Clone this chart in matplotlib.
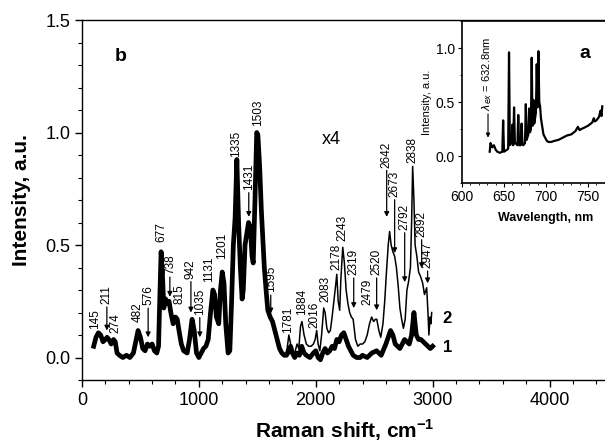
# Raman spectrum (b) with PL spectrum inset (a)

import numpy as np
import matplotlib.pyplot as plt
from matplotlib.ticker import MultipleLocator, FixedLocator

# curve 1: Raman spectrum, thick line
shift1 = [100, 120, 140, 160, 180, 200, 215, 230, 250, 270, 285, 300, 320, 350, 380, 410,
          440, 460, 480, 500, 520, 540, 560, 580, 600, 620, 640, 655, 665, 677, 690, 700,
          715, 730, 745, 760, 780, 800, 815, 830, 850, 870, 900, 920, 942, 960, 980, 1000,
          1020, 1040, 1060, 1080, 1100, 1120, 1135, 1150, 1170, 1185, 1200, 1215, 1230, 1250,
          1265, 1280, 1295, 1310, 1325, 1340, 1355, 1370, 1380, 1395, 1410, 1425, 1440, 1455,
          1465, 1480, 1495, 1505, 1520, 1535, 1545, 1560, 1575, 1590, 1610, 1630, 1650, 1670,
          1690, 1710, 1730, 1750, 1770, 1785, 1800, 1820, 1840, 1860, 1880, 1900, 1920, 1950,
          1980, 2000, 2020, 2040, 2060, 2080, 2100, 2120, 2140, 2160, 2180, 2200, 2220, 2240,
          2260, 2280, 2300, 2320, 2350, 2380, 2400, 2440, 2480, 2520, 2560, 2600, 2640, 2660,
          2680, 2700, 2720, 2740, 2760, 2780, 2800, 2820, 2840, 2860, 2880, 2900, 2920, 2940,
          2960, 2980, 3000]
int1 = [0.05, 0.09, 0.11, 0.10, 0.07, 0.08, 0.09, 0.08, 0.06, 0.08, 0.07, 0.02, 0.01, 0.0, 0.01, 0.0,
        0.02, 0.07, 0.12, 0.09, 0.04, 0.03, 0.06, 0.05, 0.06, 0.03, 0.02, 0.05, 0.25, 0.47, 0.35, 0.22,
        0.26, 0.24, 0.25, 0.20, 0.15, 0.18, 0.17, 0.12, 0.06, 0.03, 0.02, 0.08, 0.17, 0.12, 0.02, 0.0,
        0.02, 0.04, 0.05, 0.08, 0.20, 0.30, 0.28, 0.18, 0.15, 0.30, 0.38, 0.33, 0.15, 0.02,
        0.03, 0.25, 0.50, 0.62, 0.88, 0.60, 0.40, 0.26, 0.30, 0.50, 0.55, 0.60, 0.58, 0.45,
        0.42, 0.70, 1.0, 0.99, 0.85, 0.65, 0.55, 0.40, 0.30, 0.21, 0.18, 0.16, 0.12, 0.08,
        0.04, 0.02, 0.01, 0.01, 0.03, 0.05, 0.02, 0.0, 0.02, 0.01, 0.05, 0.02, 0.01, 0.0,
        0.02, 0.03, 0.0, -0.01, 0.02, 0.04, 0.02, 0.03, 0.05, 0.04, 0.08, 0.07, 0.10, 0.11,
        0.08, 0.05, 0.03, 0.01, 0.0, 0.0, 0.01, 0.0, 0.02, 0.03, 0.01, 0.06, 0.12, 0.10,
        0.06, 0.05, 0.04, 0.06, 0.08, 0.07, 0.06, 0.10, 0.20, 0.10, 0.08, 0.08, 0.07, 0.06,
        0.05, 0.04, 0.05]

# curve 2: high-shift part x4, thin line
shift2 = [1700, 1720, 1740, 1755, 1770, 1785, 1800, 1820, 1840, 1855, 1870, 1882, 1900, 1920,
          1940, 1960, 1980, 1995, 2008, 2020, 2035, 2050, 2068, 2080, 2095, 2110, 2125, 2140,
          2155, 2170, 2180, 2192, 2205, 2215, 2231, 2245, 2260, 2275, 2290, 2305, 2320, 2340,
          2360, 2380, 2400, 2420, 2440, 2460, 2478, 2495, 2510, 2522, 2540, 2556, 2575, 2590,
          2605, 2620, 2632, 2645, 2660, 2675, 2690, 2705, 2720, 2735, 2750, 2765, 2780, 2795,
          2810, 2820, 2829, 2840, 2850, 2865, 2880, 2897, 2915, 2930, 2949, 2960, 2968, 2978,
          2985, 2992]
int2 = [0.04, 0.02, 0.01, 0.04, 0.10, 0.06, 0.03, 0.02, 0.06, 0.04, 0.14, 0.16, 0.10, 0.06,
        0.05, 0.05, 0.06, 0.08, 0.12, 0.06, 0.03, 0.10, 0.22, 0.20, 0.13, 0.11, 0.12, 0.18,
        0.25, 0.32, 0.37, 0.25, 0.21, 0.35, 0.49, 0.42, 0.30, 0.24, 0.20, 0.18, 0.17, 0.08,
        0.05, 0.06, 0.06, 0.07, 0.10, 0.15, 0.18, 0.16, 0.17, 0.17, 0.12, 0.09, 0.15, 0.25,
        0.38, 0.50, 0.56, 0.50, 0.47, 0.45, 0.40, 0.32, 0.22, 0.17, 0.13, 0.17, 0.30, 0.34,
        0.40, 0.60, 0.85, 0.70, 0.50, 0.45, 0.38, 0.36, 0.33, 0.28, 0.31, 0.20, 0.10, 0.18,
        0.15, 0.20]

# peak labels: text, x, y of text bottom, arrow tip (None = no arrow)
peak_labels = ['145', '211', '274', '482', '576', '677', '738', '815', '942', '1035', '1131',
               '1201', '1335', '1431', '1503', '1595', '1781', '1884', '2016', '2083', '2178',
               '2243', '2319', '2479', '2520', '2642', '2673', '2792', '2838', '2892', '2947']
peak_x = [111, 213, 282, 480, 566, 675, 752, 838, 932, 1008, 1086,
          1196, 1316, 1427, 1504, 1615, 1761, 1880, 1991, 2085, 2179,
          2231, 2325, 2444, 2521, 2607, 2675, 2761, 2829, 2906, 2957]
peak_ytext = [0.125, 0.237, 0.11, 0.156, 0.232, 0.513, 0.37, 0.237, 0.35, 0.19, 0.335,
              0.44, 0.89, 0.745, 1.03, 0.29, 0.11, 0.19, 0.13, 0.245, 0.39,
              0.52, 0.366, 0.232, 0.366, 0.844, 0.714, 0.567, 0.866, 0.536, 0.397]
peak_tip = [None, 0.12, None, None, 0.09, None, 0.27, None, 0.2, 0.09, None,
            None, None, 0.625, None, 0.196, None, None, None, None, None,
            None, 0.22, None, 0.21, 0.625, 0.464, 0.335, None, 0.397, 0.33]

# inset: PL spectrum
wl = [633, 634, 636, 638, 640, 642, 645, 648, 649, 650, 652, 654, 655, 656, 657, 659, 660, 661,
      662, 663, 665, 666, 667, 668, 670, 671, 672, 673, 675, 676, 677, 679, 680, 681, 682, 683,
      684, 685, 686, 687, 688, 689, 690, 691, 692, 693, 694, 695, 697, 699, 701, 703, 706, 710,
      715, 720, 725, 730, 735, 738, 740, 742, 745, 750, 755, 757, 758, 760, 763, 765, 766, 767]
pl = [0.04, 0.12, 0.08, 0.10, 0.06, 0.04, 0.03, 0.04, 0.33, 0.04, 0.05, 0.06, 0.07, 0.96, 0.10,
      0.12, 0.29, 0.10, 0.45, 0.12, 0.11, 0.10, 0.38, 0.10, 0.10, 0.30, 0.11, 0.10, 0.12, 0.48,
      0.15, 0.20, 0.44, 0.22, 0.25, 0.91, 0.28, 0.52, 0.30, 0.35, 0.40, 0.85, 0.45, 0.97, 0.50,
      0.46, 0.35, 0.30, 0.20, 0.17, 0.14, 0.13, 0.13, 0.14, 0.15, 0.17, 0.19, 0.20, 0.23, 0.27,
      0.24, 0.25, 0.26, 0.28, 0.31, 0.35, 0.32, 0.33, 0.36, 0.42, 0.37, 0.46]
wl_ticks = [600, 650, 700, 750]

plt.rcParams['font.family'] = ['Liberation Sans', 'DejaVu Sans']

fig = plt.figure(figsize=(6.05, 4.44), dpi=100)
ax = fig.add_axes([0.1355, 0.1441, 0.8694, 0.8108])

ax.plot(shift1, int1, color='k', lw=3.4, solid_joinstyle='round')
ax.plot(shift2, int2, color='k', lw=1.1)

for lab, x, yt, tip in zip(peak_labels, peak_x, peak_ytext, peak_tip):
    if tip is None:
        ax.text(x, yt, lab, rotation=90, ha='center', va='bottom', fontsize=8.5)
    else:
        ax.annotate(lab, xy=(x, tip), xytext=(x, yt), rotation=90, ha='center', va='bottom',
                    fontsize=8.5,
                    arrowprops=dict(arrowstyle='-|>', color='k', lw=0.9, mutation_scale=7,
                                    shrinkA=0, shrinkB=0))

ax.text(333, 1.34, 'b', fontsize=14, fontweight='bold', ha='center', va='center')
ax.text(2137, 0.97, 'x4', fontsize=13, ha='center', va='center')
ax.text(3085, 0.175, '2', fontsize=12, fontweight='bold', ha='left', va='center')
ax.text(3085, 0.045, '1', fontsize=12, fontweight='bold', ha='left', va='center')

ax.set_xlim(0, 4500)
ax.set_ylim(-0.1, 1.5)
ax.xaxis.set_major_locator(MultipleLocator(1000))
ax.xaxis.set_minor_locator(MultipleLocator(200))
ax.yaxis.set_major_locator(MultipleLocator(0.5))
ax.yaxis.set_minor_locator(MultipleLocator(0.1))
ax.yaxis.set_major_formatter(plt.FormatStrFormatter('%.1f'))
ax.tick_params(which='major', direction='out', length=5, width=1, labelsize=13)
ax.tick_params(which='minor', direction='out', length=3, width=0.8)
for s in ax.spines.values():
    s.set_linewidth(1)
ax.set_xlabel('Raman shift, cm$^{\\mathregular{-1}}$', fontsize=15, fontweight='bold', labelpad=6)
ax.set_ylabel('Intensity, a.u.', fontsize=15, fontweight='bold', labelpad=10)

# inset (a)
axi = fig.add_axes([0.7636, 0.5878, 0.2777, 0.3649])
axi.plot(wl, pl, color='k', lw=1.6)
axi.annotate('', xy=(631, 0.17), xytext=(631, 0.39),
             arrowprops=dict(arrowstyle='-|>', color='k', lw=0.8, mutation_scale=6,
                             shrinkA=0, shrinkB=0))
axi.text(630, 0.42, '$\\lambda_{ex}$ = 632.8nm', rotation=90, ha='center', va='bottom', fontsize=8)
axi.text(746, 0.95, 'a', fontsize=14, fontweight='bold', ha='center', va='center')
axi.set_xlim(600, 800)
axi.set_ylim(-0.25, 1.25)
axi.xaxis.set_major_locator(FixedLocator(wl_ticks))
axi.xaxis.set_minor_locator(MultipleLocator(10))
axi.yaxis.set_major_locator(MultipleLocator(0.5))
axi.yaxis.set_minor_locator(MultipleLocator(0.25))
axi.yaxis.set_major_formatter(plt.FormatStrFormatter('%.1f'))
axi.tick_params(which='major', direction='out', length=3, width=0.8, labelsize=10, pad=2)
axi.tick_params(which='minor', direction='out', length=1.5, width=0.6)
for s in axi.spines.values():
    s.set_linewidth(1.2)
axi.set_xlabel('Wavelength, nm', fontsize=9, fontweight='bold', labelpad=6)
axi.set_ylabel('Intensity, a.u.', fontsize=8, labelpad=3)

fig.savefig('out.png', dpi=100)
